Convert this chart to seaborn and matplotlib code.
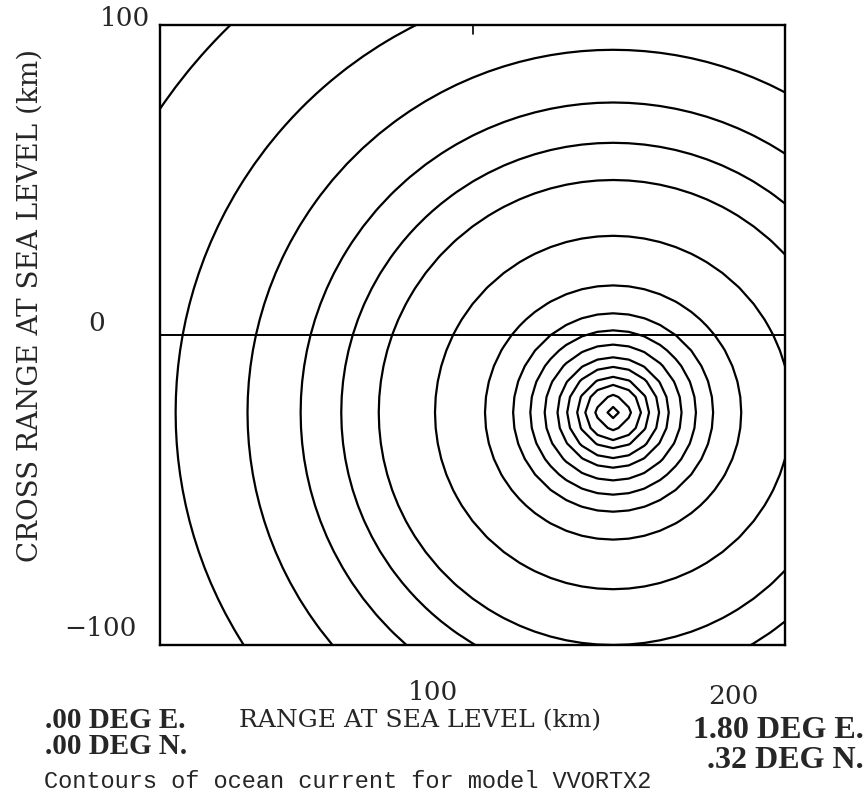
import numpy as np
import matplotlib
matplotlib.use("Agg")
import matplotlib.pyplot as plt
import seaborn as sns

# ring values (distance from vortex centre, km)
ring_levels = [1.8, 5.7, 8.9, 11.5, 14.7, 17.8, 21.9, 26.5, 32, 41, 57, 75, 87, 100, 117, 140, 175]
center_x, center_y = 145, -25
x_range = [0, 200]
y_range = [-100, 100]
grid_step = 5
zero_line_x = [0, 200]
zero_line_y = [0, 0]

sns.set_theme(style="white")
plt.rcParams["font.family"] = ["DejaVu Serif"]

gx = np.arange(x_range[0], x_range[1] + grid_step, grid_step)
gy = np.arange(y_range[0], y_range[1] + grid_step, grid_step)
X, Y = np.meshgrid(gx, gy)
field = np.hypot(X - center_x, Y - center_y)

W, H = 866, 792
fig = plt.figure(figsize=(W / 100, H / 100), dpi=100)
ax = fig.add_axes([160 / W, 1 - 645 / H, 625 / W, 620 / H])

ax.contour(X, Y, field, levels=ring_levels, colors="black", linewidths=1.6)
sns.lineplot(x=zero_line_x, y=zero_line_y, color="black", linewidth=1.4, ax=ax)

ax.set_xlim(x_range)
ax.set_ylim(y_range)
ax.set_xticks([])
ax.set_yticks([])
for s in ax.spines.values():
    s.set_color("black")
    s.set_linewidth(1.7)
ax.plot([100, 100], [100, 97], color="black", linewidth=1.2)


def ftext(x, y, s, **kw):
    fig.text(x / W, 1 - y / H, s, va="center", **kw)


# y tick labels
ftext(125, 18, "100", ha="center", fontsize=19)
ftext(97, 323, "0", ha="center", fontsize=19)
ftext(100, 628, "\u2212100", ha="center", fontsize=19)
# x tick labels
ftext(433, 692, "100", ha="center", fontsize=19)
ftext(733, 697, "200", ha="center", fontsize=19)

ftext(30, 305, "CROSS RANGE AT SEA LEVEL (km)", ha="center", rotation=90, fontsize=20)
ftext(420, 721, "RANGE AT SEA LEVEL (km)", ha="center", fontsize=18)

cond = dict(family=["Liberation Serif"], fontweight="bold")
ftext(45, 721, ".00 DEG E.", ha="left", fontsize=21, **cond)
ftext(45, 747, ".00 DEG N.", ha="left", fontsize=21, **cond)
ftext(864, 731, "1.80 DEG E.", ha="right", fontsize=23, **cond)
ftext(864, 760, ".32 DEG N.", ha="right", fontsize=23, **cond)

ftext(44, 781, "Contours of ocean current for model VVORTX2", ha="left",
      family=["Liberation Mono"], fontsize=17)

fig.savefig("out.png", dpi=100, facecolor="white")
